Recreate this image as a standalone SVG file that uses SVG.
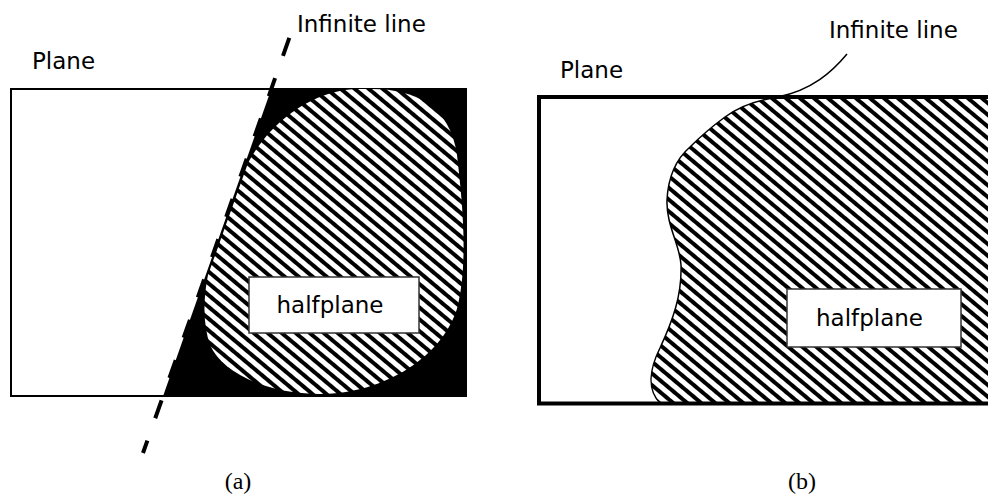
<svg xmlns="http://www.w3.org/2000/svg" width="988" height="499" viewBox="0 0 988 499">
<style>
.lbl{font-family:"DejaVu Sans",sans-serif;font-size:23px;fill:#000}
.cap{font-family:"Liberation Serif",serif;font-size:24px;fill:#000;text-anchor:middle}
.box{fill:#fff;stroke:#333;stroke-width:1.5}
.hatched{fill:url(#hatch)}
</style>
<defs>
<pattern id="hatch" patternUnits="userSpaceOnUse" width="9" height="9" patternTransform="rotate(40)">
<rect width="9" height="9" fill="#fff"/>
<rect width="9" height="4" fill="#000"/>
</pattern>
<clipPath id="clipA"><rect x="11" y="89" width="455" height="307"/></clipPath>
<clipPath id="clipB"><rect x="537" y="97" width="460" height="307"/></clipPath>
</defs>
<rect width="988" height="499" fill="#fff"/>

<g id="panel-a">
<g id="plane-a">
<rect x="11" y="89" width="455" height="307" fill="#fff" stroke="#000" stroke-width="2"/>
<polygon points="271.3,89 466,89 466,396 163.1,396" fill="#000"/>
</g>
<g id="halfplane-region-a" clip-path="url(#clipA)">
<path class="hatched" d="M 248,163 C 270,122 310,92 355,89 L 372,89 C 415,89 450,106 457,155 C 464,215 467,265 458,305 C 445,355 385,394 320,394 C 265,394 222,372 210,345 C 203,325 203,300 208,275 Z"/>
</g>
<g id="halfplane-label-a">
<rect class="box" x="249" y="277" width="170" height="56"/>
<text class="lbl" x="330" y="313" text-anchor="middle">halfplane</text>
</g>
<g id="infinite-line-a">
<line x1="289.3" y1="37.9" x2="143" y2="453" stroke="#000" stroke-width="4" stroke-dasharray="19 23.7"/>
</g>
<text class="lbl" x="32" y="69">Plane</text>
<text class="lbl" x="297" y="32">Infinite line</text>
<text class="cap" x="238" y="489">(a)</text>
</g>

<g id="panel-b">
<g id="plane-b">
<rect x="537" y="97" width="460" height="307" fill="#fff"/>
</g>
<g id="halfplane-region-b" clip-path="url(#clipB)">
<path class="hatched" stroke="#000" stroke-width="1.5" d="M 995,95 L 790,96 C 760,98 740,106 725,117 C 710,128 700,137 690,147 C 675,160 668,180 667,200 C 666,225 680,245 681,265 C 682,295 673,320 660,348 C 650,368 646,390 661,404 L 995,404 Z"/>
</g>
<rect x="539" y="97" width="460" height="306.5" fill="none" stroke="#000" stroke-width="4"/>
<g id="halfplane-label-b">
<rect class="box" x="787" y="289" width="174" height="58"/>
<text class="lbl" x="869.5" y="326" text-anchor="middle">halfplane</text>
</g>
<g id="connectors">
<path d="M 847,54 C 832,72 812,90 778,97" fill="none" stroke="#000" stroke-width="1.5"/>
</g>
<text class="lbl" x="560" y="78">Plane</text>
<text class="lbl" x="829" y="38">Infinite line</text>
<text class="cap" x="802" y="489">(b)</text>
</g>
</svg>
